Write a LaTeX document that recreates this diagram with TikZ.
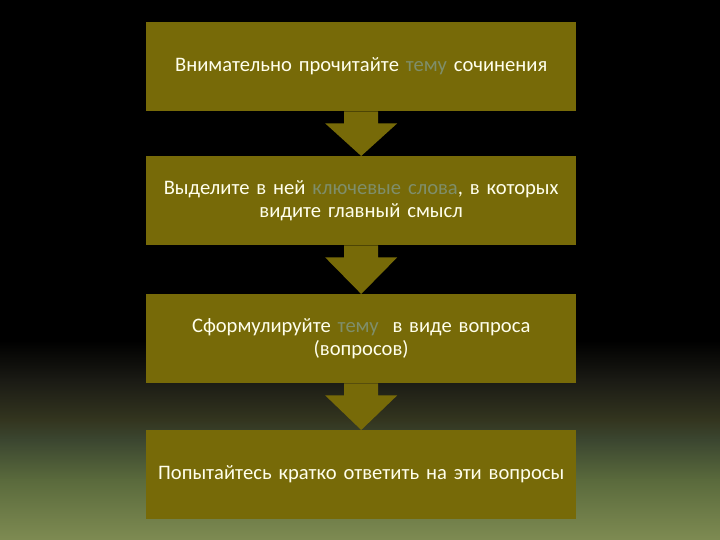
\documentclass[tikz,border=0pt]{standalone}
\usepackage{fontspec}
\setmainfont{Carlito}[WordSpace={0.7,0,0}]
\definecolor{boxc}{HTML}{776A08}
\definecolor{txtc}{HTML}{FFFFEC}
\definecolor{hic}{HTML}{7F8E6A}
\definecolor{g1}{HTML}{1A1A14}
\definecolor{g2}{HTML}{33351F}
\definecolor{g3}{HTML}{3B4630}
\definecolor{g4}{HTML}{5A6A3C}
\definecolor{g5}{HTML}{7E8B52}
\tikzset{
  stepbox/.style={fill=boxc, draw=none, minimum width=430pt, minimum height=89pt,
    text width=422pt, align=center, anchor=north west, inner sep=0pt,
    text=txtc, font=\fontsize{20.6pt}{23pt}\selectfont},
  flowarrow/.style={fill=boxc, draw=none}
}
\newcommand{\hl}[1]{\textcolor{hic}{#1}}
\begin{document}
\begin{tikzpicture}[x=1pt,y=1pt]
\useasboundingbox (0,0) rectangle (720,-540);
\fill[black] (0,0) rectangle (720,-340);
\shade[top color=black, bottom color=g1] (0,-340.5) rectangle (720,-380);
\shade[top color=g1, bottom color=g2] (0,-379.5) rectangle (720,-420);
\shade[top color=g2, bottom color=g3] (0,-419.5) rectangle (720,-440);
\shade[top color=g3, bottom color=g4] (0,-439.5) rectangle (720,-480);
\shade[top color=g4, bottom color=g5] (0,-479.5) rectangle (720,-540);

\node[stepbox] (b1) at (146,-22) {Внимательно прочитайте \hl{тему} сочинения};
\node[stepbox] (b2) at (146,-156) {Выделите в ней \hl{ключевые слова}, в которых\\видите главный смысл};
\node[stepbox] (b3) at (146,-294) {Сформулируйте \hl{тему} \ в виде вопроса\\(вопросов)};
\node[stepbox] (b4) at (146,-430) {Попытайтесь кратко ответить на эти вопросы};

\foreach \a/\b in {b1/b2,b2/b3,b3/b4}{
  \fill[flowarrow] ([xshift=-17pt]\a.south) -- ([xshift=-17pt,yshift=-12pt]\a.south)
    -- ([xshift=-36pt,yshift=-12pt]\a.south) -- (\b.north)
    -- ([xshift=36pt,yshift=-12pt]\a.south) -- ([xshift=17pt,yshift=-12pt]\a.south)
    -- ([xshift=17pt]\a.south) -- cycle;
}
\end{tikzpicture}
\end{document}
